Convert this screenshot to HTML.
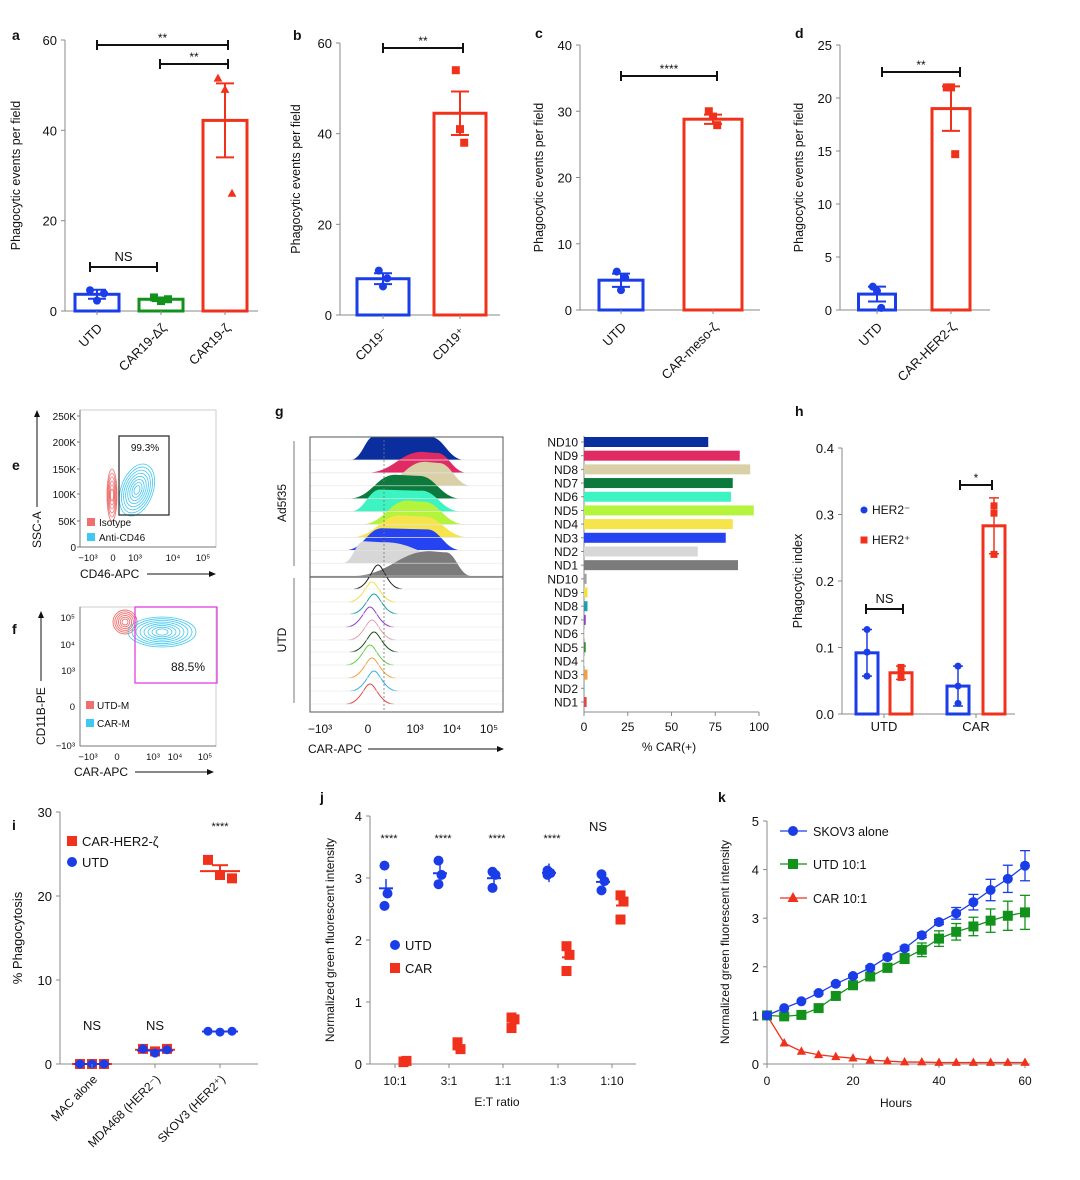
<!DOCTYPE html>
<html><head><meta charset="utf-8">
<style>
html,body{margin:0;padding:0;background:#fff;}
svg{display:block;font-family:"Liberation Sans",sans-serif;}
</style></head>
<body>
<svg id="fig" width="1080" height="1180" viewBox="0 0 1080 1180" xmlns="http://www.w3.org/2000/svg">
<defs><clipPath id="gclip"><rect x="310" y="437" width="193" height="275"/></clipPath></defs>
</svg>
<script>
// ---------- data ----------
const aCats=["UTD","CAR19-Δζ","CAR19-ζ"];
const aMeans=[3.7,2.6,42.2];
const aErr=[1.0,0.4,8.2];
const aPts=[[4.6,2.3,3.9],[3.0,2.2,2.6],[51.5,49,26]];
const bCats=["CD19⁻","CD19⁺"];
const bMeans=[8.0,44.5];
const bErr=[1.2,4.8];
const bPts=[[9.8,6.3,8.1],[54,41,38]];
const cCats=["UTD","CAR-meso-ζ"];
const cMeans=[4.5,28.8];
const cErr=[1.0,0.7];
const cPts=[[5.8,3.0,4.9],[30,29.2,27.9]];
const dCats=["UTD","CAR-HER2-ζ"];
const dMeans=[1.5,19.0];
const dErr=[0.7,2.1];
const dPts=[[2.2,1.8,0.2],[21,21,14.7]];
const gLabels=["ND10","ND9","ND8","ND7","ND6","ND5","ND4","ND3","ND2","ND1","ND10","ND9","ND8","ND7","ND6","ND5","ND4","ND3","ND2","ND1"];
const gVals=[71,89,95,85,84,97,85,81,65,88,1.5,2,2,1,0.3,1,0.2,2,0.3,1.5];
const gColors=["#0b2e9e","#df2a63","#d9d0a8","#0c7a3c","#3cf3c2","#b4f43c","#f6e44c","#2543f0","#d7d7d7","#7b7b7b","#a0a0a0","#f0e040","#1fa0a8","#9040c0","#cccccc","#3a8a3a","#cccccc","#f0a040","#3aa0e0","#e04848"];
const gTicks=[0,25,50,75,100];
const hGroups=["UTD","CAR"];
const hNeg=[0.092,0.042];
const hPos=[0.062,0.283];
const hNegErr=[0.035,0.03];
const hPosErr=[0.01,0.042];
const hNegPts=[[0.127,0.093,0.057],[0.072,0.042,0.016]];
const hPosPts=[[0.07,0.06,0.055],[0.313,0.302,0.24]];
const iCats=["MAC alone","MDA468 (HER2⁻)","SKOV3 (HER2⁺)"];
const iCar=[[0,0,0],[1.8,1.5,1.8],[24.3,22.5,22.1]];
const iUtd=[[0,0,0],[1.8,1.3,1.7],[3.9,3.8,3.9]];
const iSig=["NS","NS","****"];
const jCats=["10:1","3:1","1:1","1:3","1:10"];
const jUtd=[[3.2,2.75,2.55],[3.28,3.05,2.9],[3.1,3.05,2.84],[3.12,3.08,3.05],[3.06,2.95,2.8]];
const jCar=[[0.03,0.05,0.04],[0.35,0.24,0.3],[0.75,0.72,0.58],[1.9,1.76,1.5],[2.72,2.62,2.33]];
const jSig=["****","****","****","****","NS"];
const kHours=[0,4,8,12,16,20,24,28,32,36,40,44,48,52,56,60];
const kSkov=[1,1.15,1.29,1.46,1.65,1.81,1.98,2.2,2.38,2.65,2.92,3.1,3.33,3.58,3.81,4.08];
const kSkovErr=[0,0.02,0.02,0.03,0.03,0.03,0.04,0.04,0.04,0.05,0.05,0.12,0.16,0.22,0.28,0.31];
const kUtd=[1,0.98,1.01,1.15,1.4,1.62,1.8,1.98,2.17,2.35,2.58,2.72,2.83,2.95,3.05,3.12];
const kUtdErr=[0,0.03,0.04,0.05,0.06,0.06,0.07,0.09,0.1,0.14,0.16,0.17,0.19,0.24,0.3,0.35];
const kCar=[1,0.43,0.26,0.19,0.15,0.12,0.08,0.06,0.04,0.04,0.03,0.03,0.03,0.03,0.03,0.03];

const BLUE="#1a3de8",RED="#f0321c",GREEN="#12921c",BLK="#111";
const NS="http://www.w3.org/2000/svg";
const svg=document.getElementById('fig');
function mk(tag,attrs,name,parent){
  const el=document.createElementNS(NS,tag);
  for(const k in attrs) el.setAttribute(k,attrs[k]);
  
  
  (parent||svg).appendChild(el);
  return el;
}
function line(x1,y1,x2,y2,c,w,name,extra){const a={x1,y1,x2,y2,stroke:c,'stroke-width':w};Object.assign(a,extra||{});return mk('line',a,name);}
function txt(x,y,s,size,name,opt){
  opt=opt||{};
  const a={x,y,'font-size':size,fill:opt.fill||BLK,'text-anchor':opt.anchor||'middle'};
  if(opt.weight)a['font-weight']=opt.weight;
  if(opt.rot!==undefined)a.transform='rotate('+opt.rot+' '+x+' '+y+')';
  const t=mk('text',a,name);t.textContent=s;return t;
}
function marker(shape,x,y,r,c,name){
  if(shape==='circle')return mk('circle',{cx:x,cy:y,r:r,fill:c},name);
  if(shape==='square')return mk('rect',{x:x-r,y:y-r,width:2*r,height:2*r,fill:c},name);
  return mk('polygon',{points:(x)+','+(y-r*1.2)+' '+(x-r*1.1)+','+(y+r*0.8)+' '+(x+r*1.1)+','+(y+r*0.8),fill:c},name);
}
function yAxis(ax,yTop,yBot,max,ticks,fmt,name){
  const ys=v=>yBot-(v/max)*(yBot-yTop);
  line(ax,yTop,ax,yBot,'#888',1,name+'-y-axis');
  ticks.forEach(t=>{line(ax-4,ys(t),ax,ys(t),'#888',1,name+'-y-tick');txt(ax-8,ys(t)+5,fmt?fmt(t):String(t),13,name+'-y-tick-label',{anchor:'end'});});
  return ys;
}
function bracket(x1,x2,y,label,name){
  line(x1,y,x2,y,BLK,2,name+'-bracket');
  line(x1,y-5,x1,y+5,BLK,2,name+'-bracket-end');
  line(x2,y-5,x2,y+5,BLK,2,name+'-bracket-end');
  txt((x1+x2)/2,label==='NS'?y-6:y-3,label,label==='NS'?13:12,name+'-sig-label');
}
function barPanel(p){
  const ys=yAxis(p.ax,p.yTop,p.yBot,p.max,p.ticks,null,p.name);
  line(p.ax,p.yBot,p.xEnd,p.yBot,'#888',1,p.name+'-x-axis');
  p.means.forEach((m,i)=>{
    const cx=p.cx[i],w=p.w[i],c=p.colors[i];
    mk('rect',{x:cx-w/2,y:ys(m),width:w,height:p.yBot-ys(m),fill:'none',stroke:c,'stroke-width':3},p.name+'-bar-'+i);
    line(cx,p.yBot,cx,p.yBot+4,'#888',1,p.name+'-x-tick');
    line(cx,ys(m-p.err[i]),cx,ys(m+p.err[i]),c,2,p.name+'-error-bar');
    line(cx-9,ys(m+p.err[i]),cx+9,ys(m+p.err[i]),c,2,p.name+'-error-cap');
    line(cx-9,ys(m-p.err[i]),cx+9,ys(m-p.err[i]),c,2,p.name+'-error-cap');
    p.pts[i].forEach((v,j)=>marker(p.shapes[i],cx+(j-1)*7*(p.spread||0),ys(v),4,c,p.name+'-point'));
    txt(cx+6,p.yBot+18,p.cats[i],13,p.name+'-x-label',{anchor:'end',rot:-45});
  });
  txt(p.titleX,(p.yTop+p.yBot)/2,'Phagocytic events per field',12.5,p.name+'-y-title',{rot:-90});
  return ys;
}
// panel letters
[['a',12,40],['b',293,40],['c',535,38],['d',795,38],['e',12,470],['f',12,634],['g',275,416],['h',795,416],['i',12,830],['j',320,802],['k',718,802]].forEach(l=>txt(l[1],l[2],l[0],14,'panel-label-'+l[0],{anchor:'start',weight:'bold'}));

// ---- a ----
barPanel({name:'panel-a',ax:65,yTop:40,yBot:311,max:60,ticks:[0,20,40,60],xEnd:258,cx:[97,161,225],w:[44,44,44],colors:[BLUE,GREEN,RED],means:aMeans,err:aErr,pts:aPts,shapes:['circle','square','triangle'],spread:1,cats:aCats,titleX:20});
bracket(97,228,45,'**','panel-a');
bracket(160,228,64,'**','panel-a');
bracket(90,157,267,'NS','panel-a');
// ---- b ----
barPanel({name:'panel-b',ax:340,yTop:43,yBot:315,max:60,ticks:[0,20,40,60],xEnd:500,cx:[383,460],w:[52,52],colors:[BLUE,RED],means:bMeans,err:bErr,pts:bPts,shapes:['circle','square'],spread:0.6,cats:bCats,titleX:300});
bracket(383,463,48,'**','panel-b');
// ---- c ----
barPanel({name:'panel-c',ax:580,yTop:45,yBot:310,max:40,ticks:[0,10,20,30,40],xEnd:760,cx:[621,713],w:[44,58],colors:[BLUE,RED],means:cMeans,err:cErr,pts:cPts,shapes:['circle','square'],spread:0.6,cats:cCats,titleX:543});
bracket(621,717,76,'****','panel-c');
// ---- d ----
barPanel({name:'panel-d',ax:840,yTop:45,yBot:310,max:25,ticks:[0,5,10,15,20,25],xEnd:990,cx:[877,951],w:[37,38],colors:[BLUE,RED],means:dMeans,err:dErr,pts:dPts,shapes:['circle','square'],spread:0.6,cats:dCats,titleX:803});
bracket(882,960,72,'**','panel-d');

// ---- e (flow) ----
(function(){
  mk('rect',{x:80,y:410,width:136,height:137,fill:'none',stroke:'#ccc','stroke-width':1},'panel-e-plot-frame');
  line(80,410,80,547,'#777',1,'panel-e-y-axis');line(80,547,216,547,'#777',1,'panel-e-x-axis');
  [['250K',416],['200K',442],['150K',469],['100K',494],['50K',521],['0',547]].forEach(t=>{txt(76,t[1]+4,t[0],10,'panel-e-y-tick-label',{anchor:'end'});line(77,t[1],80,t[1],'#777',1,'panel-e-y-tick');});
  [['−10³',88],['0',113],['10³',135],['10⁴',173],['10⁵',203]].forEach(t=>txt(t[1],561,t[0],9.5,'panel-e-x-tick-label'));
  for(let k=0;k<6;k++)mk('ellipse',{cx:112,cy:495,rx:5-k*0.7,ry:26-k*4,fill:'none',stroke:'#f07070','stroke-width':0.8},'panel-e-isotype-contour');
  for(let k=0;k<8;k++)mk('ellipse',{cx:137,cy:490,rx:16-k*1.9,ry:27-k*3.2,fill:'none',stroke:'#40c8f0','stroke-width':0.8,transform:'rotate(20 137 490)'},'panel-e-cd46-contour');
  mk('rect',{x:119,y:436,width:50,height:79,fill:'none',stroke:'#333','stroke-width':1.3},'panel-e-gate');
  txt(145,451,'99.3%',10,'panel-e-gate-label');
  mk('rect',{x:87,y:518,width:8,height:8,fill:'#f07070'},'panel-e-legend-isotype-swatch');
  txt(99,526,'Isotype',10,'panel-e-legend-isotype',{anchor:'start'});
  mk('rect',{x:87,y:533,width:8,height:8,fill:'#40c8f0'},'panel-e-legend-anti-cd46-swatch');
  txt(99,541,'Anti-CD46',10,'panel-e-legend-anti-cd46',{anchor:'start'});
  txt(80,578,'CD46-APC',12,'panel-e-x-title',{anchor:'start'});
  line(147,574,212,574,BLK,1,'panel-e-x-arrow');mk('polygon',{points:'216,574 209,571 209,577',fill:BLK},'panel-e-x-arrowhead');
  txt(41,548,'SSC-A',12,'panel-e-y-title',{anchor:'start',rot:-90});
  line(37,507,37,414,BLK,1,'panel-e-y-arrow');mk('polygon',{points:'37,410 34,417 40,417',fill:BLK},'panel-e-y-arrowhead');
})();
// ---- f (flow) ----
(function(){
  mk('rect',{x:80,y:607,width:136,height:139,fill:'none',stroke:'#ccc','stroke-width':1},'panel-f-plot-frame');
  line(80,607,80,746,'#777',1,'panel-f-y-axis');line(80,746,216,746,'#777',1,'panel-f-x-axis');
  [['10⁵',617],['10⁴',644],['10³',670],['0',706],['−10³',745]].forEach(t=>txt(75,t[1]+4,t[0],9.5,'panel-f-y-tick-label',{anchor:'end'}));
  [['−10³',88],['0',117],['10³',153],['10⁴',175],['10⁵',205]].forEach(t=>txt(t[1],760,t[0],9.5,'panel-f-x-tick-label'));
  for(let k=0;k<6;k++)mk('ellipse',{cx:125,cy:622,rx:12-k*1.8,ry:12-k*1.8,fill:'none',stroke:'#f07070','stroke-width':0.9},'panel-f-utd-contour');
  for(let k=0;k<8;k++)mk('ellipse',{cx:162,cy:632,rx:34-k*4,ry:15-k*1.7,fill:'none',stroke:'#40c8f0','stroke-width':0.8},'panel-f-car-contour');
  mk('rect',{x:135,y:607,width:82,height:76,fill:'none',stroke:'#e040e0','stroke-width':1.3},'panel-f-gate');
  txt(188,671,'88.5%',12,'panel-f-gate-label');
  mk('rect',{x:86,y:701,width:8,height:8,fill:'#f07070'},'panel-f-legend-utd-swatch');
  txt(97,709,'UTD-M',10,'panel-f-legend-utd',{anchor:'start'});
  mk('rect',{x:86,y:719,width:8,height:8,fill:'#40c8f0'},'panel-f-legend-car-swatch');
  txt(97,727,'CAR-M',10,'panel-f-legend-car',{anchor:'start'});
  txt(74,776,'CAR-APC',12,'panel-f-x-title',{anchor:'start'});
  line(135,772,210,772,BLK,1,'panel-f-x-arrow');mk('polygon',{points:'214,772 207,769 207,775',fill:BLK},'panel-f-x-arrowhead');
  txt(45,745,'CD11B-PE',12,'panel-f-y-title',{anchor:'start',rot:-90});
  line(41,681,41,615,BLK,1,'panel-f-y-arrow');mk('polygon',{points:'41,611 38,618 44,618',fill:BLK},'panel-f-y-arrowhead');
})();
// ---- g histograms ----
(function(){
  const x0=310,x1=503,top=437;
  const grp=mk('g',{'clip-path':'url(#gclip)'},'panel-g-histogram-group');
  // [left, peakLeft, peakRight, right, height]
  const shapes=[[350,375,430,465,24],[365,422,436,468,21],[375,425,438,472,24],[348,395,418,462,24],[350,380,420,462,22],[360,408,422,466,24],[350,400,422,470,22],[345,382,426,462,22],[342,364,382,470,22],[350,430,445,472,25]];
  for(let i=0;i<10;i++){
    const base=460+i*12.9,s=shapes[i],c=gColors[i];
    const L=s[0],pL=s[1],pR=s[2],R=s[3],h=s[4];
    const d='M'+L+','+base+' C'+(L+(pL-L)*0.5)+','+base+' '+(L+(pL-L)*0.6)+','+(base-h)+' '+pL+','+(base-h)+' L'+pR+','+(base-h*0.95)+' C'+(pR+(R-pR)*0.4)+','+(base-h)+' '+(pR+(R-pR)*0.5)+','+base+' '+R+','+base+' Z';
    mk('path',{d:d,fill:c,stroke:'none'},'panel-g-ad5f35-histogram',grp);
    line(x0,base,x1,base,'#e4e4e4',0.7,'panel-g-row-line');
  }
  line(x0,577,x1,577,'#333',1,'panel-g-group-divider');
  const uc=['#222','#f0e040','#1fa0a8','#9040c0','#e0a0b0','#1b4f1b','#60d040','#f0a040','#3ab0e0','#e04848'];
  const ub=[589,602,614,627,640,652,665,678,691,704];
  for(let i=0;i<10;i++){
    const base=ub[i];
    const px=(i===0?378:370+(i%3)*2),h=(i===0?24:20),w=8;
    const d='M'+(px-3*w)+','+base+' C'+(px-1.2*w)+','+base+' '+(px-0.7*w)+','+(base-h)+' '+px+','+(base-h)+' C'+(px+0.7*w)+','+(base-h)+' '+(px+1.2*w)+','+base+' '+(px+3*w)+','+base;
    mk('path',{d:d,fill:'none',stroke:uc[i],'stroke-width':1},'panel-g-utd-histogram',grp);
    line(x0,base,x1,base,'#eee',0.7,'panel-g-row-line');
  }
  mk('rect',{x:x0,y:top,width:x1-x0,height:275,fill:'none',stroke:'#555','stroke-width':1},'panel-g-histogram-frame');
  line(384,440,384,712,'#777',0.8,'panel-g-gate-line',{'stroke-dasharray':'2,2'});
  [['−10³',320],['0',368],['10³',415],['10⁴',452],['10⁵',489]].forEach(t=>txt(t[1],733,t[0],12,'panel-g-x-tick-label'));
  line(x0,712,x1,712,'#555',1,'panel-g-x-axis');
  txt(308,753,'CAR-APC',12,'panel-g-x-title',{anchor:'start'});
  line(368,749,500,749,BLK,1,'panel-g-x-arrow');mk('polygon',{points:'504,749 497,746 497,752',fill:BLK},'panel-g-x-arrowhead');
  line(294,441,294,566,'#777',1,'panel-g-ad5f35-bracket');
  line(294,578,294,703,'#777',1,'panel-g-utd-bracket');
  txt(286,503,'Ad5f35',12,'panel-g-ad5f35-label',{rot:-90});
  txt(286,640,'UTD',12,'panel-g-utd-label',{rot:-90});
})();
// ---- g bars ----
(function(){
  const ax=584,xs=v=>ax+v/100*175,y0=442,step=(702-442)/19;
  line(ax,436,ax,712,'#888',1,'panel-g-bar-y-axis');
  line(ax,712,xs(100),712,'#888',1,'panel-g-bar-x-axis');
  gVals.forEach((v,i)=>{
    const y=y0+i*step;
    mk('rect',{x:ax,y:y-5,width:Math.max(xs(v)-ax,0.5),height:10,fill:gColors[i]},'panel-g-bar-'+gLabels[i].toLowerCase());
    line(ax-3,y,ax,y,'#888',1,'panel-g-bar-y-tick');
    txt(ax-6,y+4.5,gLabels[i],12,'panel-g-bar-label',{anchor:'end'});
  });
  gTicks.forEach(t=>{line(xs(t),712,xs(t),716,'#888',1,'panel-g-bar-x-tick');txt(xs(t),731,String(t),12,'panel-g-bar-x-tick-label');});
  txt(669,751,'% CAR(+)',12,'panel-g-bar-x-title');
})();
// ---- h ----
(function(){
  const ys=yAxis(842,448,714,0.4,[0,0.1,0.2,0.3,0.4],t=>t.toFixed(1),'panel-h');
  line(842,714,1015,714,'#888',1,'panel-h-x-axis');
  const cxN=[867,958],cxP=[901,994];
  hGroups.forEach((g,i)=>{
    [[cxN[i],hNeg[i],hNegErr[i],hNegPts[i],BLUE,'circle'],[cxP[i],hPos[i],hPosErr[i],hPosPts[i],RED,'square']].forEach(b=>{
      mk('rect',{x:b[0]-11,y:ys(b[1]),width:22,height:714-ys(b[1]),fill:'none',stroke:b[4],'stroke-width':3},'panel-h-bar');
      line(b[0],ys(b[1]-b[2]),b[0],ys(b[1]+b[2]),b[4],1.5,'panel-h-error-bar');
      line(b[0]-5,ys(b[1]+b[2]),b[0]+5,ys(b[1]+b[2]),b[4],1.5,'panel-h-error-cap');
      line(b[0]-5,ys(b[1]-b[2]),b[0]+5,ys(b[1]-b[2]),b[4],1.5,'panel-h-error-cap');
      b[3].forEach(v=>marker(b[5],b[0],ys(v),3.5,b[4],'panel-h-point'));
    });
    const mid=(cxN[i]+cxP[i])/2;
    line(mid,714,mid,718,'#888',1,'panel-h-x-tick');
    txt(mid,731,g,13,'panel-h-x-label');
  });
  bracket(866,903,609,'NS','panel-h');
  bracket(960,992,485,'*','panel-h');
  marker('circle',864,510,3.5,BLUE,'panel-h-legend-her2neg-marker');
  txt(872,514,'HER2⁻',12,'panel-h-legend-her2neg',{anchor:'start'});
  marker('square',864,540,3.5,RED,'panel-h-legend-her2pos-marker');
  txt(872,544,'HER2⁺',12,'panel-h-legend-her2pos',{anchor:'start'});
  txt(802,581,'Phagocytic index',12.5,'panel-h-y-title',{rot:-90});
})();
// ---- i ----
(function(){
  const ys=yAxis(60,812,1064,30,[0,10,20,30],null,'panel-i');
  line(60,1064,258,1064,'#888',1,'panel-i-x-axis');
  const cx=[92,155,220];
  iCats.forEach((c,i)=>{
    const mC=iCar[i].reduce((a,b)=>a+b)/3,mU=iUtd[i].reduce((a,b)=>a+b)/3;
    iCar[i].forEach((v,j)=>marker('square',cx[i]+(j-1)*12,ys(v),5,RED,'panel-i-car-point'));
    line(cx[i]-20,ys(mC),cx[i]+20,ys(mC),RED,2,'panel-i-car-mean');
    if(i===2){line(cx[i],ys(mC-0.7),cx[i],ys(mC+0.7),RED,2,'panel-i-car-err');line(cx[i]-8,ys(mC+0.7),cx[i]+8,ys(mC+0.7),RED,2,'panel-i-car-err-cap');}
    iUtd[i].forEach((v,j)=>marker('circle',cx[i]+(j-1)*12,ys(v),4.5,BLUE,'panel-i-utd-point'));
    line(cx[i]-18,ys(mU),cx[i]+18,ys(mU),BLUE,2,'panel-i-utd-mean');
    line(cx[i],1064,cx[i],1068,'#888',1,'panel-i-x-tick');
    txt(cx[i]+6,1080,c,12,'panel-i-x-label',{anchor:'end',rot:-45});
    txt(cx[i],iSig[i]==='NS'?1030:830,iSig[i],iSig[i]==='NS'?13:11,'panel-i-sig-label');
  });
  marker('square',72,841,5,RED,'panel-i-legend-car-marker');
  txt(82,846,'CAR-HER2-ζ',13,'panel-i-legend-car',{anchor:'start'});
  marker('circle',72,862,5,BLUE,'panel-i-legend-utd-marker');
  txt(82,867,'UTD',13,'panel-i-legend-utd',{anchor:'start'});
  txt(22,938,'% Phagocytosis',13,'panel-i-y-title',{rot:-90});
})();
// ---- j ----
(function(){
  const ys=yAxis(370,816,1064,4,[0,1,2,3,4],null,'panel-j');
  line(370,1064,636,1064,'#888',1,'panel-j-x-axis');
  const cx=[395,449,503,558,612];
  jCats.forEach((c,i)=>{
    const mU=jUtd[i].reduce((a,b)=>a+b)/3,mC=jCar[i].reduce((a,b)=>a+b)/3;
    const bx=cx[i]-9,rx=cx[i]+10;
    jUtd[i].forEach((v,j)=>marker('circle',bx+(j===1?1:-1)*1.5,ys(v),5,BLUE,'panel-j-utd-point'));
    line(bx-7,ys(mU),bx+7,ys(mU),BLUE,2,'panel-j-utd-mean');
    line(bx,ys(mU-0.15),bx,ys(mU+0.15),BLUE,1.5,'panel-j-utd-err');
    jCar[i].forEach((v,j)=>marker('square',rx+(j===1?1.5:-1.5),ys(v),5,RED,'panel-j-car-point'));
    line(rx-6,ys(mC),rx+6,ys(mC),RED,2,'panel-j-car-mean');
    line(cx[i],1064,cx[i],1068,'#888',1,'panel-j-x-tick');
    txt(cx[i],1085,c,12,'panel-j-x-label');
    txt(jSig[i]==='NS'?598:bx+3,jSig[i]==='NS'?831:842,jSig[i],jSig[i]==='NS'?13:11,'panel-j-sig-label');
  });
  marker('circle',395,945,5,BLUE,'panel-j-legend-utd-marker');
  txt(405,950,'UTD',13,'panel-j-legend-utd',{anchor:'start'});
  marker('square',395,968,5,RED,'panel-j-legend-car-marker');
  txt(405,973,'CAR',13,'panel-j-legend-car',{anchor:'start'});
  txt(497,1106,'E:T ratio',12,'panel-j-x-title');
  txt(334,940,'Normalized green fluorescent intensity',12,'panel-j-y-title',{rot:-90});
})();
// ---- k ----
(function(){
  const ys=yAxis(767,821,1064,5,[0,1,2,3,4,5],null,'panel-k');
  const xs=h=>767+h/60*258;
  line(767,1064,1030,1064,'#888',1,'panel-k-x-axis');
  [0,20,40,60].forEach(t=>{line(xs(t),1064,xs(t),1068,'#888',1,'panel-k-x-tick');txt(xs(t),1085,String(t),12,'panel-k-x-tick-label');});
  txt(896,1107,'Hours',12,'panel-k-x-title');
  txt(729,942,'Normalized green fluorescent intensity',12,'panel-k-y-title',{rot:-90});
  function series(vals,errs,c,shape,name){
    mk('polyline',{points:kHours.map((h,i)=>xs(h)+','+ys(vals[i])).join(' '),fill:'none',stroke:c,'stroke-width':1.3},name+'-line');
    kHours.forEach((h,i)=>{
      if(errs&&errs[i]>0.02){
        line(xs(h),ys(vals[i]-errs[i]),xs(h),ys(vals[i]+errs[i]),c,1.3,name+'-error');
        line(xs(h)-5,ys(vals[i]+errs[i]),xs(h)+5,ys(vals[i]+errs[i]),c,1.3,name+'-error-cap');
        line(xs(h)-5,ys(vals[i]-errs[i]),xs(h)+5,ys(vals[i]-errs[i]),c,1.3,name+'-error-cap');
      }
      marker(shape,xs(h),ys(vals[i]),shape==='triangle'?4.2:5,c,name+'-point');
    });
  }
  series(kCar,null,RED,'triangle','panel-k-car');
  series(kUtd,kUtdErr,GREEN,'square','panel-k-utd');
  series(kSkov,kSkovErr,BLUE,'circle','panel-k-skov3');
  [['SKOV3 alone',BLUE,'circle',831],['UTD 10:1',GREEN,'square',864],['CAR 10:1',RED,'triangle',898]].forEach((l,i)=>{
    line(780,l[3],807,l[3],l[1],1.3,'panel-k-legend-line');
    marker(l[2],793,l[3],5,l[1],'panel-k-legend-marker');
    txt(813,l[3]+5,l[0],12.5,'panel-k-legend-label',{anchor:'start'});
  });
})();
</script>
</body></html>
